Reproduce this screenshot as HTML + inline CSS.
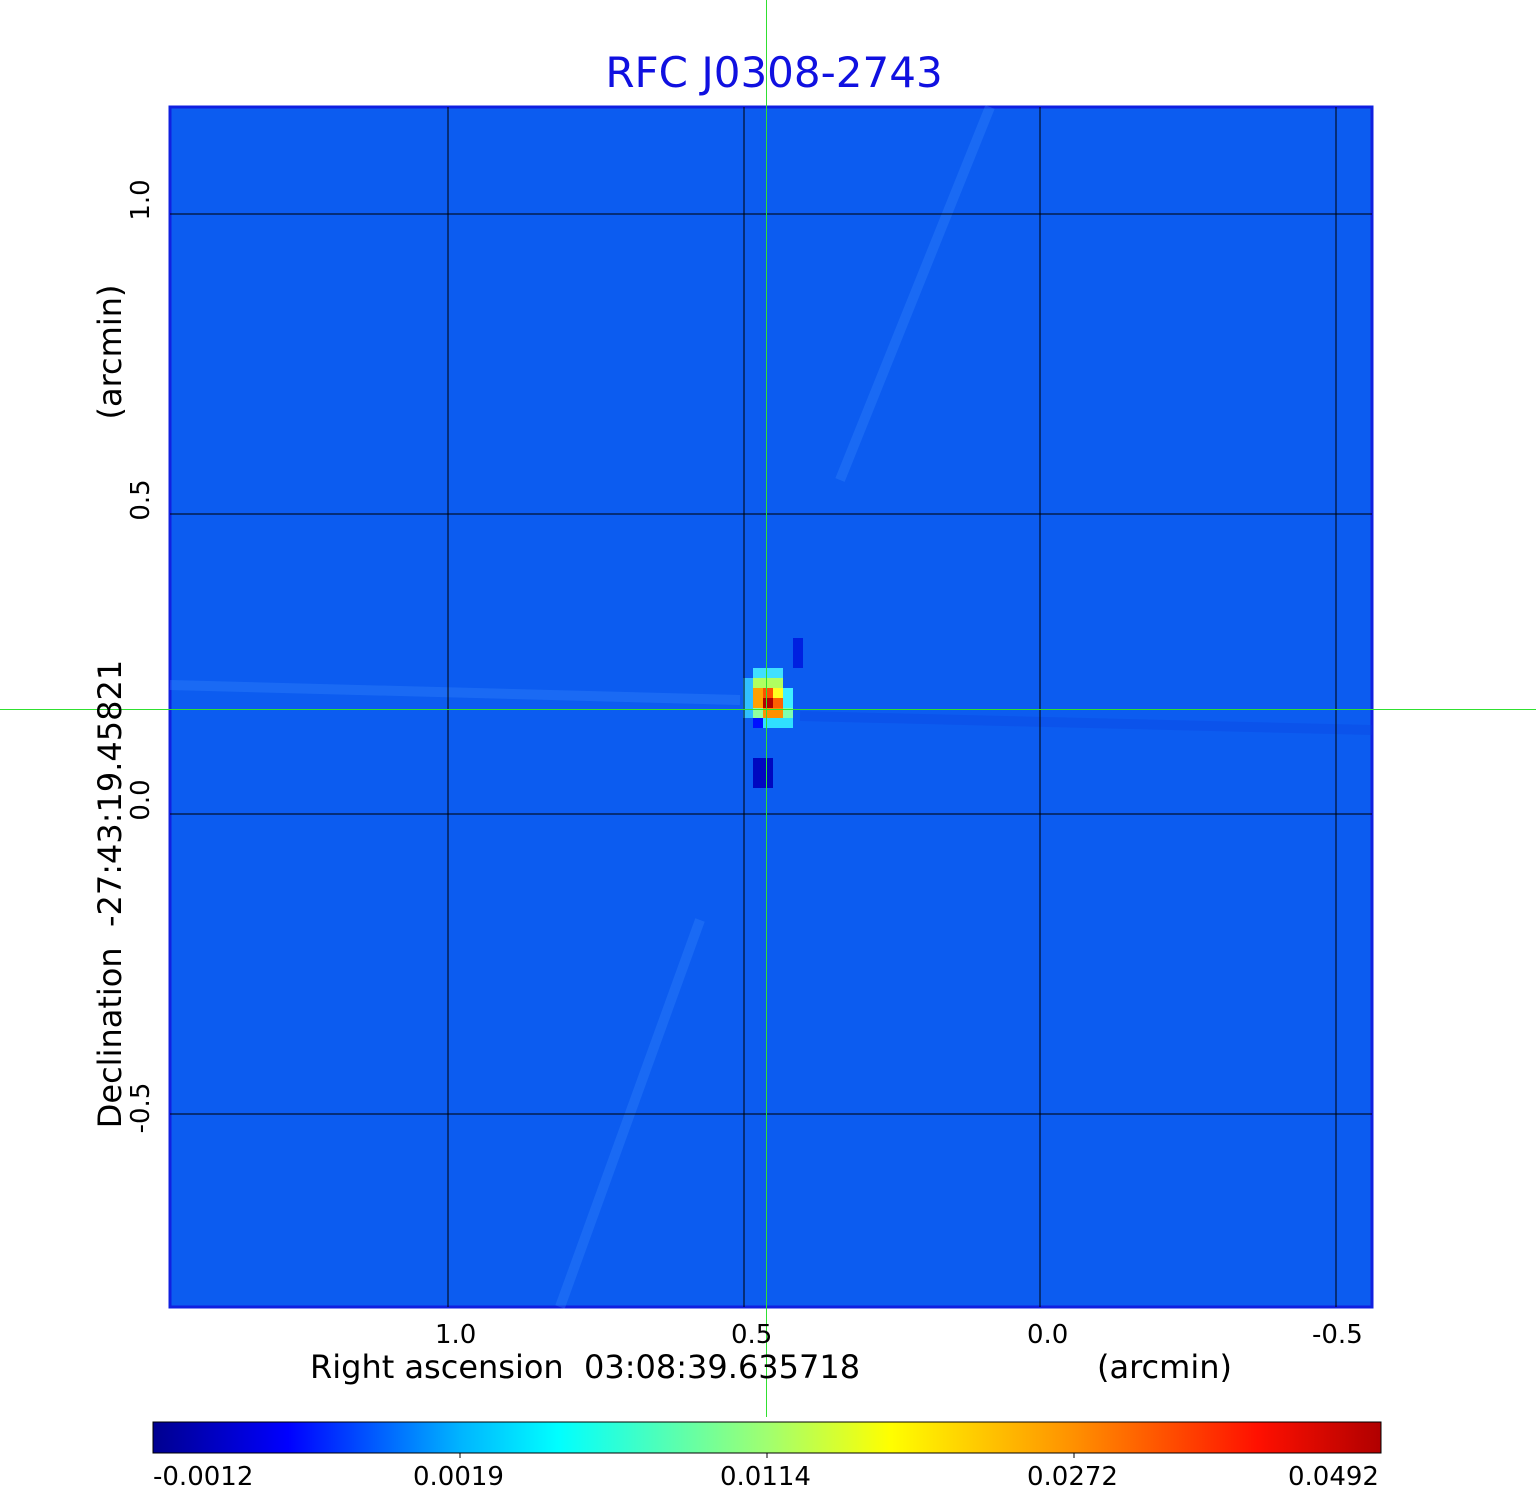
<!DOCTYPE html>
<html><head><style>
body{margin:0;background:#fff;width:1536px;height:1511px;position:relative;overflow:hidden;font-family:"DejaVu Sans","Liberation Sans",sans-serif}
.t{position:absolute;color:#000;font-size:26px;white-space:nowrap}
</style></head><body>
<div class="t" style="left:0;width:1536px;text-align:center;top:48px;font-size:42px;color:#1010e0;padding-left:6px">RFC J0308-2743</div>
<svg width="1536" height="1511" style="position:absolute;left:0;top:0">
<defs>
<linearGradient id="jet" x1="0" x2="1">
<stop offset="0" stop-color="#00008f"/>
<stop offset="0.11" stop-color="#0000ff"/>
<stop offset="0.25" stop-color="#00b4ff"/>
<stop offset="0.33" stop-color="#00ffff"/>
<stop offset="0.5" stop-color="#a0ff70"/>
<stop offset="0.6" stop-color="#ffff00"/>
<stop offset="0.75" stop-color="#ff9000"/>
<stop offset="0.9" stop-color="#ff1000"/>
<stop offset="1" stop-color="#b00000"/>
</linearGradient>
</defs>
<rect x="170" y="107" width="1202" height="1200" fill="#0c5cf0" stroke="#1020e0" stroke-width="3"/>
<g stroke="#3a8cff" stroke-width="10" opacity="0.3">
<line x1="990" y1="107" x2="840" y2="480"/>
<line x1="560" y1="1307" x2="700" y2="920"/>
<line x1="170" y1="685" x2="740" y2="700"/>
<line x1="800" y1="716" x2="1372" y2="730" stroke="#0a40e0"/>
</g>
<g>
<rect x="753" y="668" width="30" height="10" fill="#40e0ff"/>
<rect x="753" y="678" width="30" height="10" fill="#b0ff60"/>
<rect x="743" y="678" width="10" height="40" fill="#30c0ff"/>
<rect x="753" y="688" width="10" height="10" fill="#ffa000"/>
<rect x="763" y="688" width="10" height="10" fill="#ff5000"/>
<rect x="773" y="688" width="10" height="10" fill="#ffff20"/>
<rect x="783" y="688" width="10" height="20" fill="#40f0ff"/>
<rect x="753" y="698" width="10" height="10" fill="#ffa000"/>
<rect x="763" y="698" width="10" height="10" fill="#b00000"/>
<rect x="773" y="698" width="10" height="10" fill="#ff6000"/>
<rect x="753" y="708" width="10" height="10" fill="#90ffa0"/>
<rect x="763" y="708" width="20" height="10" fill="#ff9000"/>
<rect x="783" y="708" width="10" height="10" fill="#80ffb0"/>
<rect x="753" y="718" width="10" height="10" fill="#0010ff"/>
<rect x="763" y="718" width="30" height="10" fill="#30e0ff"/>
<rect x="753" y="758" width="20" height="30" fill="#0008c0"/>
<rect x="793" y="638" width="10" height="30" fill="#0020e0"/>
</g>
<g stroke="#000" stroke-width="1">
<line x1="448" y1="107" x2="448" y2="1307"/><line x1="744" y1="107" x2="744" y2="1307"/>
<line x1="1040" y1="107" x2="1040" y2="1307"/><line x1="1336" y1="107" x2="1336" y2="1307"/>
<line x1="170" y1="214" x2="1372" y2="214"/><line x1="170" y1="514" x2="1372" y2="514"/>
<line x1="170" y1="814" x2="1372" y2="814"/><line x1="170" y1="1114" x2="1372" y2="1114"/>
</g>
<rect x="766" y="0" width="1" height="1417" fill="#30e030"/>
<rect x="0" y="709" width="1536" height="1" fill="#30e030"/>
<rect x="153" y="1422" width="1228" height="31" fill="url(#jet)" stroke="#000" stroke-width="1"/>
<g stroke="#000"><line x1="460" y1="1453" x2="460" y2="1458"/><line x1="767" y1="1453" x2="767" y2="1458"/><line x1="1074" y1="1453" x2="1074" y2="1458"/></g>
</svg>
<div class="t" style="left:435px;top:1320px">1.0</div>
<div class="t" style="left:731px;top:1320px">0.5</div>
<div class="t" style="left:1027px;top:1320px">0.0</div>
<div class="t" style="left:1312px;top:1320px">-0.5</div>
<div class="t" style="left:310px;top:1348px;font-size:32px">Right ascension&nbsp; 03:08:39.635718</div>
<div class="t" style="left:1097px;top:1348px;font-size:32px">(arcmin)</div>
<div class="t" style="left:153px;top:1462px">-0.0012</div>
<div class="t" style="left:413px;top:1462px">0.0019</div>
<div class="t" style="left:720px;top:1462px">0.0114</div>
<div class="t" style="left:1027px;top:1462px">0.0272</div>
<div class="t" style="left:1288px;top:1462px">0.0492</div>
<div class="t" style="left:141px;top:200px;transform:translate(-50%,-50%) rotate(-90deg)">1.0</div>
<div class="t" style="left:141px;top:500px;transform:translate(-50%,-50%) rotate(-90deg)">0.5</div>
<div class="t" style="left:141px;top:800px;transform:translate(-50%,-50%) rotate(-90deg)">0.0</div>
<div class="t" style="left:141px;top:1108px;transform:translate(-50%,-50%) rotate(-90deg)">-0.5</div>
<div class="t" style="left:110px;top:352px;font-size:32px;transform:translate(-50%,-50%) rotate(-90deg)">(arcmin)</div>
<div class="t" style="left:110px;top:894px;font-size:32px;transform:translate(-50%,-50%) rotate(-90deg)">Declination&nbsp; -27:43:19.45821</div>
</body></html>
